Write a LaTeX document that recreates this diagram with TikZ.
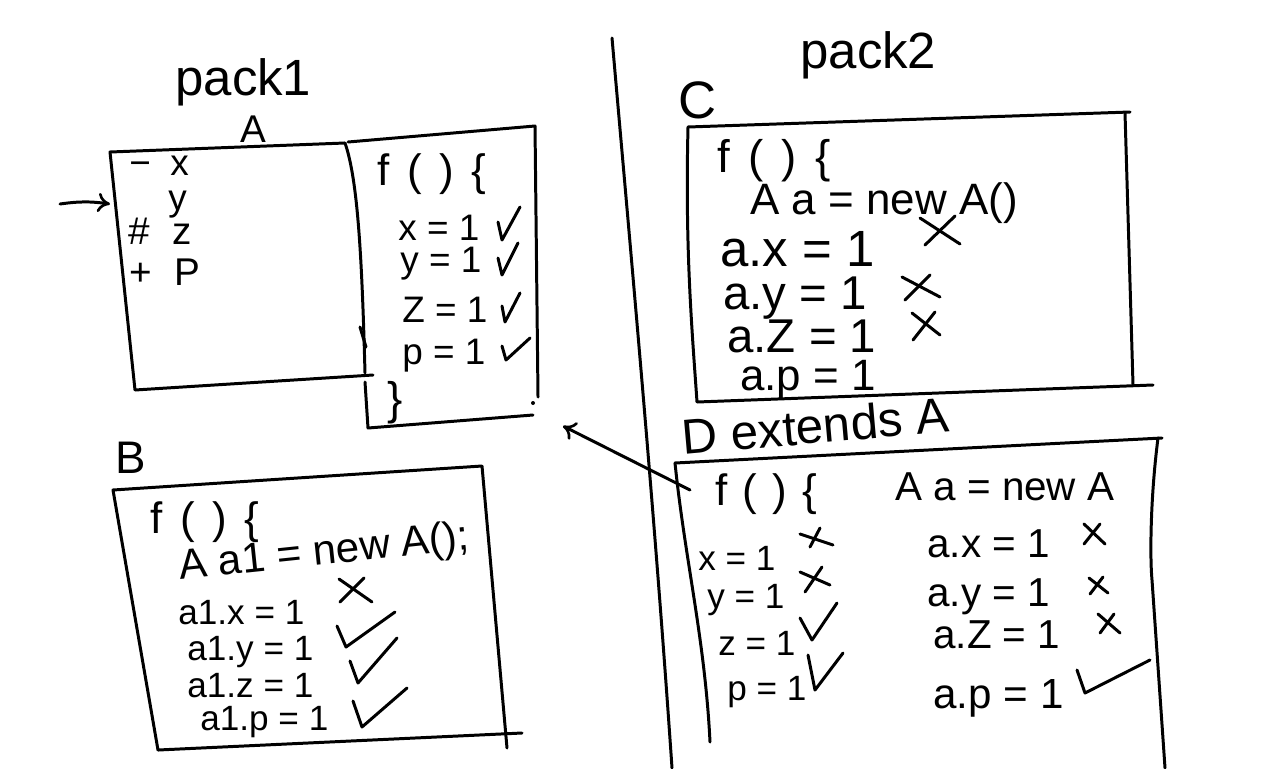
\documentclass[tikz,border=0pt]{standalone}
\usepackage{fontspec}
\setmainfont{Liberation Sans}
\usetikzlibrary{arrows.meta}
\newcommand{\spread}[2]{{\addfontfeatures{LetterSpace=#1}#2}}
\newcommand{\tickmk}[3]{\draw[ink] #1 -- #2 -- #3;}
\newcommand{\crossmk}[4]{\draw[ink] #1 -- #2; \draw[ink] #3 -- #4;}
\tikzset{
  ink/.style={line width=1.7pt, line cap=round, line join=round},
  txt/.style={anchor=base west, inner sep=0pt, font=\fontsize{#1}{#1}\selectfont},
  txt/.default=24,
  tip/.style={-{To[length=7pt,width=11pt,line width=1.5pt]}}
}
\begin{document}
\begin{tikzpicture}[x=0.02cm,y=-0.02cm]
\useasboundingbox (0,0) rectangle (1280,768);
% divider
\coordinate (d1) at (612,38);
\coordinate (d2) at (672,768);
\draw[ink] (d1) .. controls (635,300) and (655,520) .. (d2);
% titles
\node[txt=29] (pack1) at (175,95) {pack1};
\node[txt=29] (pack2) at (800,68) {pack2};
% class A
\node[txt=22] (Alab) at (240,142) {A};
\coordinate (a1) at (110,152);
\coordinate (a2) at (345,143);
\coordinate (a3) at (373,375);
\coordinate (a4) at (135,390);
\draw[ink] (a2) -- (a1) -- (a4) -- (a3);
\draw[ink] (a2) .. controls (358,180) and (362,260) .. (365,373);
\draw[ink] (360,327) -- (366,347);
\node[txt=21] (ax) at (129,175) {\spread{25}{− x}};
\node[txt=21] (ay) at (168,210) {y};
\node[txt=22] (az) at (128,244) {\spread{30}{\# z}};
\node[txt=22] (ap) at (129,285) {\spread{30}{+ P}};
\coordinate (ain) at (60,204);
\draw[ink,tip] (ain) to[bend left=8] (a1 |- ain);
% f box of A
\coordinate (f1) at (348,142);
\coordinate (f2) at (535,126);
\coordinate (f3) at (538,397);
\coordinate (f4) at (533,415);
\coordinate (f5) at (368,428);
\coordinate (f6) at (365,382);
\draw[ink] (f1) -- (f2) -- (f3);
\draw[ink] (f4) -- (f5) -- (f6);
\fill (533,403) circle (2);
\node[txt=25] (ff) at (377,185) {\spread{40}{f()\{}};
\node[txt=21] (fx) at (398,240) {x = 1};
\node[txt=21] (fy) at (400,272) {y = 1};
\node[txt=21] (fz) at (402,322) {Z = 1};
\node[txt=21] (fp) at (402,364) {p = 1};
\tickmk{(498,222)}{(502,240)}{(520,207)}
\tickmk{(498,258)}{(502,275)}{(518,243)}
\tickmk{(502,306)}{(505,322)}{(520,293)}
\tickmk{(502,346)}{(506,360)}{(530,338)}
\node[txt=26] (fe) at (387,414) {\}};
% class B
\node[txt=26] (Blab) at (115,473) {B};
\coordinate (b1) at (113,490);
\coordinate (b2) at (482,466);
\coordinate (b3) at (507,748);
\coordinate (b4) at (158,750);
\coordinate (b5) at (522,733);
\draw[ink] (b4) -- (b1) -- (b2) -- (b3);
\draw[ink] (b4) -- (b5);
\node[txt=25] (bf) at (150,533) {\spread{40}{f()\{}};
\node[txt=24,rotate=6] (bnew) at (180,580) {A a1 = new A();};
\node[txt=20] (bx) at (178,624) {a1.x = 1};
\node[txt=20] (by) at (187,660) {a1.y = 1};
\node[txt=20] (bz) at (187,697) {a1.z = 1};
\node[txt=20] (bp) at (200,730) {a1.p = 1};
\crossmk{(339,579)}{(372,602)}{(340,602)}{(364,578)}
\tickmk{(337,626)}{(346,647)}{(395,612)}
\tickmk{(350,661)}{(358,683)}{(397,638)}
\tickmk{(353,701)}{(362,727)}{(407,688)}
% class C
\node[txt=30] (Clab) at (678,118) {C};
\coordinate (c1) at (688,127);
\coordinate (c2) at (1130,112);
\coordinate (c3) at (1133,385);
\coordinate (c4) at (697,402);
\coordinate (c5) at (1153,385);
\draw[ink] (c3) -- (1125,113);
\draw[ink] (c1) -- (c2);
\draw[ink] (c1) .. controls (685,250) and (692,330) .. (c4) -- (c5);
\node[txt=26] (cf) at (717,172) {\spread{40}{f()\{}};
\node[txt=25] (cnew) at (750,214) {A a = new A()};
\node[txt=29] (cax) at (720,266) {a.x = 1};
\node[txt=27] (cay) at (723,309) {a.y = 1};
\node[txt=27] (caz) at (727,352) {a.Z = 1};
\node[txt=25] (cap) at (740,390) {a.p = 1};
\crossmk{(920,218)}{(960,244)}{(925,245)}{(955,216)}
\crossmk{(902,277)}{(940,297)}{(905,300)}{(930,275)}
\crossmk{(912,313)}{(940,335)}{(913,340)}{(935,312)}
% class D
\node[txt=28,rotate=5] (Dlab) at (683,455) {D extends A};
\coordinate (e1) at (675,463);
\coordinate (e2) at (1162,438);
\coordinate (e3) at (1165,768);
\coordinate (e4) at (710,742);
\draw[ink] (e1) -- (e2);
\draw[ink] (1158,438) .. controls (1150,500) and (1150,560) .. (1152,580) -- (e3);
\draw[ink] (e1) .. controls (685,560) and (705,640) .. (e4);
\node[txt=25] (df) at (715,505) {\spread{35}{f()\{}};
\node[txt=23] (dnew) at (895,500) {A a = new A};
\node[txt=20] (dx) at (698,570) {x = 1};
\node[txt=20] (dy) at (707,608) {y = 1};
\node[txt=20] (dz) at (718,655) {z = 1};
\node[txt=20] (dp) at (727,700) {p = 1};
\crossmk{(800,534)}{(833,545)}{(810,547)}{(820,528)}
\crossmk{(800,572)}{(830,585)}{(805,592)}{(822,567)}
\tickmk{(800,618)}{(812,640)}{(837,603)}
\tickmk{(808,655)}{(815,690)}{(843,653)}
\node[txt=23] (drx) at (927,557) {a.x = 1};
\node[txt=23] (dry) at (927,606) {a.y = 1};
\node[txt=23] (drz) at (933,648) {a.Z = 1};
\node[txt=24] (drp) at (933,708) {a.p = 1};
\crossmk{(1084,524)}{(1105,544)}{(1084,544)}{(1100,524)}
\crossmk{(1089,578)}{(1108,593)}{(1090,594)}{(1103,577)}
\crossmk{(1098,614)}{(1120,633)}{(1100,633)}{(1114,614)}
\tickmk{(1077,670)}{(1085,693)}{(1150,660)}
% inheritance arrow D -> A's f box
\coordinate (dstart) at (690,490);
\coordinate (dend) at (563,426);
\draw[ink,tip] (dstart) -- (dend);
\end{tikzpicture}
\end{document}
